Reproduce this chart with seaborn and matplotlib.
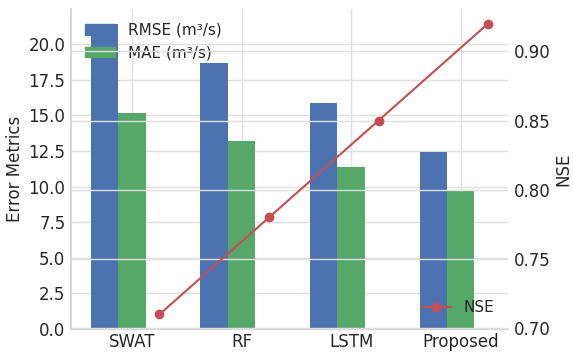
import numpy as np
import pandas as pd
import matplotlib
matplotlib.use("Agg")
import matplotlib.pyplot as plt
from matplotlib.patches import Patch
from matplotlib.ticker import MultipleLocator
import seaborn as sns

models = ["SWAT", "RF", "LSTM", "Proposed"]
rmse = [21.4, 18.7, 15.9, 12.4]
mae = [15.2, 13.2, 11.4, 9.7]
nse = [0.71, 0.78, 0.85, 0.92]
metric_labels = ["RMSE (m³/s)", "MAE (m³/s)", "NSE"]

sns.set_theme(style="whitegrid", rc={"grid.color": "0.88", "axes.edgecolor": "0.82"})
plt.rcParams["font.family"] = ["DejaVu Sans"]

deep = sns.color_palette("deep")
blue, green, red = deep[0], deep[2], deep[3]

df = pd.DataFrame({
    "Model": models * 2,
    "Value": rmse + mae,
    "Metric": [metric_labels[0]] * len(models) + [metric_labels[1]] * len(models),
})

fig = plt.figure(figsize=(5.73, 3.57), dpi=100)
ax = fig.add_axes([71 / 573, 1 - 329 / 357, (508 - 71) / 573, (329 - 9) / 357])

group_width = 0.75
bar_w = group_width / len(metric_labels)
sns.barplot(data=df, x="Model", y="Value", hue="Metric", order=models,
            hue_order=metric_labels, palette=[blue, green, red],
            width=group_width, saturation=1, linewidth=0, legend=False, ax=ax)

ax.set_xlabel("")
ax.set_ylabel("Error Metrics", fontsize=12, labelpad=3)
ax.yaxis.set_major_locator(MultipleLocator(2.5))
ax.tick_params(labelsize=12, length=0, pad=4)
ax.tick_params(axis="x", pad=3)
ax.xaxis.grid(True)
ax.yaxis.grid(True)
for s in ["top", "right"]:
    ax.spines[s].set_visible(False)

ax.legend(handles=[Patch(color=blue, label=metric_labels[0]),
                   Patch(color=green, label=metric_labels[1])],
          loc="upper left", frameon=False, fontsize=11)

ax2 = ax.twinx()
nse_x = np.arange(len(models)) + bar_w
sns.lineplot(x=nse_x, y=nse, ax=ax2, color=red, marker="o", markersize=7,
             markeredgewidth=0, linewidth=1.5, label="NSE")
ax2.set_ylabel("NSE", fontsize=12, labelpad=3)
ax2.yaxis.set_major_locator(MultipleLocator(0.05))
ax2.tick_params(labelsize=12, length=0, pad=4)
ax2.grid(True)
for s in ["top", "right", "left", "bottom"]:
    ax2.spines[s].set_visible(False)
ax2.legend(loc="lower right", frameon=False, fontsize=11)

lo = -0.5 + (1 - group_width) / 2
hi = nse_x[-1]
pad = 0.05 * (hi - lo)
ax.set_xlim(lo - pad, hi + pad)

fig.savefig("out.png", dpi=100)
